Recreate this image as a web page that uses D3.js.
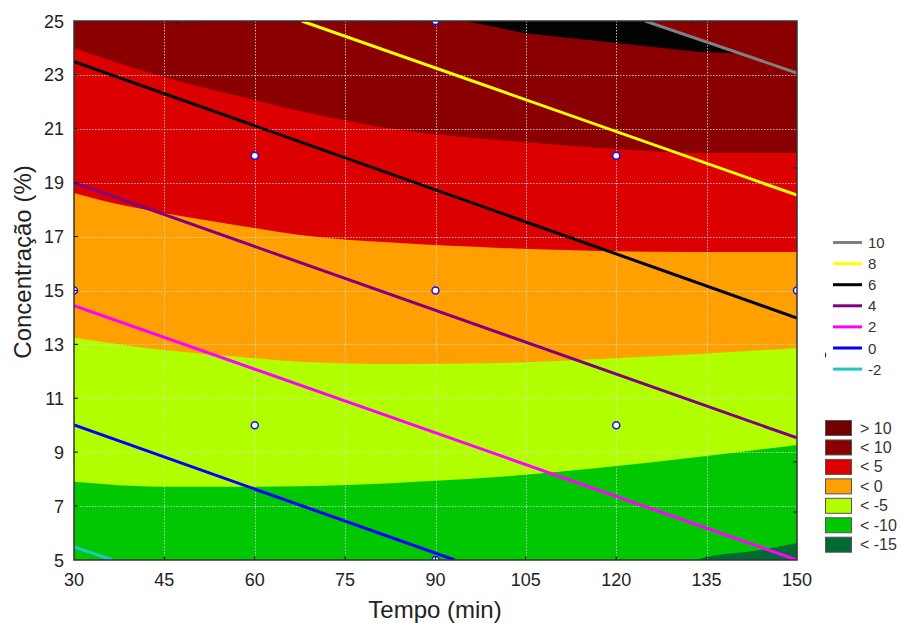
<!DOCTYPE html>
<html>
<head>
<meta charset="utf-8">
<script src="https://cdn.jsdelivr.net/npm/d3@7"></script>
<style>
  html, body { margin: 0; padding: 0; background: #fff; }
  svg { display: block; font-family: "Liberation Sans", Arial, sans-serif; }
</style>
</head>
<body>
<svg id="chart" width="904" height="628"></svg>
<script>
// Axis ticks
const tempoTicks = [30, 45, 60, 75, 90, 105, 120, 135, 150];
const concTicks = [5, 7, 9, 11, 13, 15, 17, 19, 21, 23, 25];
// Secondary minor ticks on the top and right frame
const topMinorTicks = [47.1, 81.5, 132.7];
const rightMinorTicks = [21.36, 19.55, 8.64, 6.78];

// Experimental design points (Tempo, Concentração)
const designTempo = [60, 120, 90, 30, 150, 60, 120, 90, 90];
const designConc  = [20, 20, 15, 15, 15, 10, 10, 25, 5];

// Filled response surface: level boundaries as [tempo, concentração]
const bound5 = [[30, 24.0], [44.9, 22.92], [60, 22.07], [67.5, 21.66], [84.1, 20.96],
                [100.7, 20.58], [117.3, 20.29], [133.9, 20.1], [150, 20.1]];
const bound0 = [[30, 18.62], [34.3, 18.36], [44.9, 17.88], [60, 17.32], [67.5, 17.06],
                [84.1, 16.76], [100.7, 16.58], [117.3, 16.47], [133.9, 16.43], [150, 16.43]];
const boundM5 = [[30, 13.25], [44.9, 12.79], [60, 12.49], [67.5, 12.36], [84.1, 12.27],
                 [100.7, 12.31], [117.3, 12.46], [133.9, 12.64], [150, 12.87]];
const boundM10 = [[30, 7.905], [44.9, 7.72], [60, 7.72], [75, 7.78], [89.9, 7.94],
                  [100.7, 8.09], [117.3, 8.42], [133.9, 8.83], [150, 9.27]];
const boundM15 = [[133.3, 5.0], [135, 5.1], [143.9, 5.37], [150, 5.63]];
// Region above 10
const overTen = [[94.9, 25], [124.8, 25], [140.0, 23.8], [133.9, 23.85],
                 [120.1, 24.18], [104.9, 24.55]];

// Fill legend
const fillLabels = ["> 10", "< 10", "< 5", "< 0", "< -5", "< -10", "< -15"];
const fillColors = ["#720000", "#8a0000", "#dc0000", "#ffa000", "#b2ff00", "#00c800", "#006a35"];
const overTenColor = "#030303";

// Contour lines of the second response
const lineLevels = [10, 8, 6, 4, 2, 0, -2];
const lineColors = ["#808080", "#ffff00", "#000000", "#800080", "#ff00ff", "#0000ff", "#1ec8c8"];
const lineStart = [[124.8, 25], [67.8, 25], [30, 23.49], [30, 19.0], [30, 14.44], [30, 10.01], [30, 5.49]];
const lineEnd   = [[150, 23.07], [150, 18.54], [150, 13.98], [150, 9.53], [150, 5.0], [93.2, 5.0], [36.4, 5.0]];

const svg = d3.select("#chart");
const L = 74, T = 21, R = 797, B = 560;
const x = d3.scaleLinear().domain([30, 150]).range([L, R]);
const y = d3.scaleLinear().domain([5, 25]).range([B, T]);

const defs = svg.append("defs");
defs.append("clipPath").attr("id", "plotClip")
  .append("rect").attr("x", L).attr("y", T).attr("width", R - L).attr("height", B - T);

const plot = svg.append("g").attr("clip-path", "url(#plotClip)");

// Background band (< 10)
plot.append("rect").attr("x", L).attr("y", T).attr("width", R - L).attr("height", B - T)
  .attr("fill", fillColors[1]);

const below = d3.area()
  .x(d => x(d[0]))
  .y0(y(5))
  .y1(d => y(d[1]))
  .curve(d3.curveMonotoneX);

const bands = [
  { pts: bound5, color: fillColors[2] },
  { pts: bound0, color: fillColors[3] },
  { pts: boundM5, color: fillColors[4] },
  { pts: boundM10, color: fillColors[5] },
  { pts: boundM15, color: fillColors[6] }
];
plot.selectAll("path.band").data(bands).join("path")
  .attr("class", "band")
  .attr("d", d => below(d.pts))
  .attr("fill", d => d.color);

plot.append("path")
  .attr("d", d3.line().x(d => x(d[0])).y(d => y(d[1])).curve(d3.curveLinearClosed)(overTen))
  .attr("fill", overTenColor);

// Dotted grid
const grid = plot.append("g").attr("stroke", "#d9d9d9").attr("stroke-width", 1)
  .attr("stroke-dasharray", "1.5,1.5").attr("opacity", 0.85);
grid.selectAll("line.gx").data(tempoTicks.slice(1, -1)).join("line")
  .attr("x1", d => Math.round(x(d)) + 0.5).attr("x2", d => Math.round(x(d)) + 0.5)
  .attr("y1", T).attr("y2", B);
grid.selectAll("line.gy").data(concTicks.slice(1, -1)).join("line")
  .attr("y1", d => Math.round(y(d)) + 0.5).attr("y2", d => Math.round(y(d)) + 0.5)
  .attr("x1", L).attr("x2", R);

// Contour lines
plot.selectAll("line.contour").data(lineLevels).join("line")
  .attr("class", "contour")
  .attr("x1", (d, i) => x(lineStart[i][0])).attr("y1", (d, i) => y(lineStart[i][1]))
  .attr("x2", (d, i) => x(lineEnd[i][0])).attr("y2", (d, i) => y(lineEnd[i][1]))
  .attr("stroke", (d, i) => lineColors[i])
  .attr("stroke-width", 3);

// Design points
plot.selectAll("circle.pt").data(designTempo).join("circle")
  .attr("class", "pt")
  .attr("cx", (d, i) => x(d)).attr("cy", (d, i) => y(designConc[i]))
  .attr("r", 3.5)
  .attr("fill", "#fff").attr("stroke", "#1010ff").attr("stroke-width", 1.5);

// Frame
svg.append("rect").attr("x", L).attr("y", T).attr("width", R - L).attr("height", B - T)
  .attr("fill", "none").attr("stroke", "#333").attr("stroke-width", 1.5);

// Inner tick marks
const ticks = svg.append("g").attr("stroke", "#222").attr("stroke-width", 1.2);
ticks.selectAll("line.bt").data(tempoTicks.slice(1, -1)).join("line")
  .attr("x1", d => x(d)).attr("x2", d => x(d)).attr("y1", B).attr("y2", B - 4);
ticks.selectAll("line.lt").data(concTicks.slice(1, -1)).join("line")
  .attr("y1", d => y(d)).attr("y2", d => y(d)).attr("x1", L).attr("x2", L + 4);
ticks.selectAll("line.tt").data(topMinorTicks).join("line")
  .attr("x1", d => x(d)).attr("x2", d => x(d)).attr("y1", T).attr("y2", T + 4);
ticks.selectAll("line.rt").data(rightMinorTicks).join("line")
  .attr("y1", d => y(d)).attr("y2", d => y(d)).attr("x1", R).attr("x2", R - 4);

// Tick labels
svg.append("g").selectAll("text").data(tempoTicks).join("text")
  .attr("x", d => x(d)).attr("y", 586)
  .attr("text-anchor", "middle").attr("font-size", 18).attr("fill", "#222")
  .text(d => d);
svg.append("g").selectAll("text").data(concTicks).join("text")
  .attr("x", 64).attr("y", d => y(d) + 6.5)
  .attr("text-anchor", "end").attr("font-size", 18).attr("fill", "#222")
  .text(d => d);

// Axis titles
svg.append("text").attr("x", 435).attr("y", 618)
  .attr("text-anchor", "middle").attr("font-size", 24).attr("fill", "#222")
  .text("Tempo (min)");
svg.append("text")
  .attr("transform", "translate(31,262) rotate(-90)")
  .attr("text-anchor", "middle").attr("font-size", 24).attr("fill", "#222")
  .text("Concentração (%)");

// Legend: contour lines
const lineLeg = svg.append("g");
lineLevels.forEach((lv, i) => {
  const yy = 242.5 + i * 21.1;
  lineLeg.append("line").attr("x1", 833).attr("x2", 862).attr("y1", yy).attr("y2", yy)
    .attr("stroke", lineColors[i]).attr("stroke-width", 3);
  lineLeg.append("text").attr("x", 868).attr("y", yy + 5.5)
    .attr("font-size", 15).attr("fill", "#333").text(lv);
});
// clipped point marker beside the line legend
defs.append("clipPath").attr("id", "legClip")
  .append("rect").attr("x", 825).attr("y", 340).attr("width", 10).attr("height", 30);
svg.append("circle").attr("clip-path", "url(#legClip)")
  .attr("cx", 822).attr("cy", 355).attr("r", 3.5)
  .attr("fill", "#fff").attr("stroke", "#1010ff").attr("stroke-width", 1.5);

// Legend: filled levels
const fillLeg = svg.append("g");
fillLabels.forEach((lb, i) => {
  const yy = 420 + i * 19.45;
  fillLeg.append("rect").attr("x", 825.5).attr("y", yy + 0.5).attr("width", 26).attr("height", 15)
    .attr("fill", fillColors[i]).attr("stroke", "#555").attr("stroke-width", 1);
  fillLeg.append("text").attr("x", 860).attr("y", yy + 13.5)
    .attr("font-size", 16).attr("fill", "#333").text(lb);
});
</script>
</body>
</html>
